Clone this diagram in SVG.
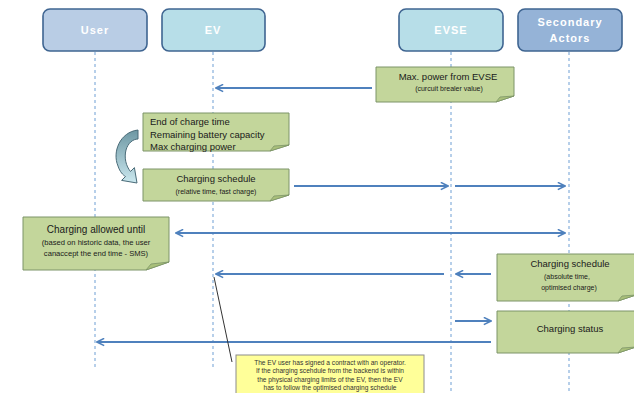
<svg xmlns="http://www.w3.org/2000/svg" width="634" height="393" viewBox="0 0 634 393">
  <style>
    .actor { stroke: #3f6591; stroke-width: 1.6; }
    .actor-lbl { font-family: "Liberation Sans", Arial, sans-serif; font-size: 11px; font-weight: bold; fill: #ffffff; text-anchor: middle; letter-spacing: 1px; }
    .life { stroke: #6f9fd4; stroke-width: 1; stroke-dasharray: 3 3; fill: none; }
    .note { fill: #c3d69b; stroke: #7c9468; stroke-width: 1; }
    .fold { fill: #a9c07a; stroke: #7c9468; stroke-width: 0.8; }
    .t { font-family: "Liberation Sans", Arial, sans-serif; fill: #1a1a1a; }
    .big { font-size: 9.5px; }
    .small { font-size: 7px; }
    .c { text-anchor: middle; }
    .msg { stroke: #4f81bd; stroke-width: 1.8; fill: none; }
    .yellow { fill: #ffff99; stroke: #8c8c8c; stroke-width: 1; }
    .ytxt { font-family: "Liberation Sans", Arial, sans-serif; font-size: 6.6px; fill: #333333; text-anchor: middle; }
  </style>
  <defs>
    <marker id="arr" viewBox="0 0 10 10" refX="9" refY="5" markerWidth="5" markerHeight="5" orient="auto-start-reverse" markerUnits="strokeWidth">
      <path d="M1,1 L9,5 L1,9" fill="none" stroke="#4f81bd" stroke-width="1.8"/>
    </marker>
    <linearGradient id="curve" x1="0" y1="0" x2="0" y2="1">
      <stop offset="0" stop-color="#6d97a3"/>
      <stop offset="1" stop-color="#cbe8ef"/>
    </linearGradient>
  </defs>

  <rect width="634" height="393" fill="#ffffff"/>

  <!-- lifelines -->
  <g id="lifelines">
    <line class="life" x1="95" y1="52" x2="95" y2="370"/>
    <line class="life" x1="213" y1="52" x2="213" y2="370"/>
    <line class="life" x1="451" y1="52" x2="451" y2="393"/>
    <line class="life" x1="569" y1="52" x2="569" y2="393"/>
  </g>

  <!-- actors -->
  <g id="actor-user">
    <rect class="actor" x="43" y="9" width="104" height="42" rx="7" fill="#b9cde5"/>
    <text class="actor-lbl" x="95" y="34">User</text>
  </g>
  <g id="actor-ev">
    <rect class="actor" x="162" y="9" width="103" height="42" rx="7" fill="#b7dee8"/>
    <text class="actor-lbl" x="213" y="34">EV</text>
  </g>
  <g id="actor-evse">
    <rect class="actor" x="399" y="9" width="104" height="42" rx="7" fill="#b7dee8"/>
    <text class="actor-lbl" x="451" y="34">EVSE</text>
  </g>
  <g id="actor-secondary">
    <rect class="actor" x="518" y="9" width="104" height="42" rx="7" fill="#95b3d7"/>
    <text class="actor-lbl" x="570" y="26">Secondary</text>
    <text class="actor-lbl" x="570" y="42">Actors</text>
  </g>

  <!-- connectors -->
  <g id="connectors">
    <line class="msg" x1="372" y1="88" x2="216" y2="88" marker-end="url(#arr)"/>
    <line class="msg" x1="294" y1="186" x2="448" y2="186" marker-end="url(#arr)"/>
    <line class="msg" x1="455" y1="186" x2="565" y2="186" marker-end="url(#arr)"/>
    <line class="msg" x1="176" y1="233" x2="565" y2="233" marker-start="url(#arr)" marker-end="url(#arr)"/>
    <line class="msg" x1="444" y1="274" x2="216" y2="274" marker-end="url(#arr)"/>
    <line class="msg" x1="491" y1="274" x2="456" y2="274" marker-end="url(#arr)"/>
    <line class="msg" x1="455" y1="321" x2="491" y2="321" marker-end="url(#arr)"/>
    <line class="msg" x1="491" y1="342" x2="97" y2="342" marker-end="url(#arr)"/>
    <line x1="214" y1="277" x2="232" y2="362" stroke="#333333" stroke-width="1"/>
  </g>

  <!-- curved arrow between the two EV notes -->
  <g id="curved-arrow">
    <path d="M138,130 C120,132 112,152 118,166 C120,172 123,175 125.5,176.5 L121.6,180.4 L137,183 L134.4,167.6 L130.5,171.5 C126,166 124,158 126,150 C128,143 133,139 138,139 Z" fill="url(#curve)" stroke="#4a6b78" stroke-width="1"/>
  </g>

  <!-- notes -->
  <g id="note-max-power">
    <path class="note" d="M376,67 H514 V96 L496,102 H376 Z"/>
    <path class="fold" d="M514,96 L496,102 L500,97 Z"/>
    <text class="t big c" x="448" y="80">Max. power from EVSE</text>
    <text class="t small c" x="449" y="91">(curcuit brealer value)</text>
  </g>

  <g id="note-ev-params">
    <path class="note" d="M143,113 H289 V145 L270,151 H143 Z"/>
    <path class="fold" d="M289,145 L270,151 L274,146 Z"/>
    <text class="t big" x="150" y="124.5">End of charge time</text>
    <text class="t big" x="150" y="137.5">Remaining battery capacity</text>
    <text class="t big" x="150" y="150">Max charging power</text>
  </g>

  <g id="note-schedule-relative">
    <path class="note" d="M143,169 H289 V195 L270,201 H143 Z"/>
    <path class="fold" d="M289,195 L270,201 L274,196 Z"/>
    <text class="t big c" x="216" y="182">Charging schedule</text>
    <text class="t small c" x="216" y="194">(relative time, fast charge)</text>
  </g>

  <g id="note-allowed-until">
    <path class="note" d="M23,217 H169 V262 L146,270 H23 Z"/>
    <path class="fold" d="M169,262 L146,270 L151,264 Z"/>
    <text class="t c" x="96" y="232.5" font-size="10px">Charging allowed until</text>
    <text class="t c" x="96" y="245" font-size="7.6px">(based on historic data, the user</text>
    <text class="t c" x="96" y="256" font-size="7.6px">canaccept the end time - SMS)</text>
  </g>

  <g id="note-schedule-absolute">
    <path class="note" d="M497,254 H636 V295 L618,301 H497 Z"/>
    <path class="fold" d="M636,295 L618,301 L622,296 Z"/>
    <text class="t big c" x="570" y="266.5">Charging schedule</text>
    <text class="t small c" x="567" y="278.5">(absolute time,</text>
    <text class="t small c" x="569" y="290">optimised charge)</text>
  </g>

  <g id="note-status">
    <path class="note" d="M497,311 H636 V347 L618,353 H497 Z"/>
    <path class="fold" d="M636,347 L618,353 L622,348 Z"/>
    <text class="t big c" x="570" y="332">Charging status</text>
  </g>

  <g id="note-contract">
    <rect class="yellow" x="236" y="355" width="188" height="45"/>
    <text class="ytxt" x="330" y="364.5">The EV user has signed a contract with an operator.</text>
    <text class="ytxt" x="330" y="373">If the charging scehdule from the backend is within</text>
    <text class="ytxt" x="330" y="381.5">the physical charging limits of the EV, then the EV</text>
    <text class="ytxt" x="330" y="390">has to follow the optimised charging schedule</text>
  </g>
</svg>
